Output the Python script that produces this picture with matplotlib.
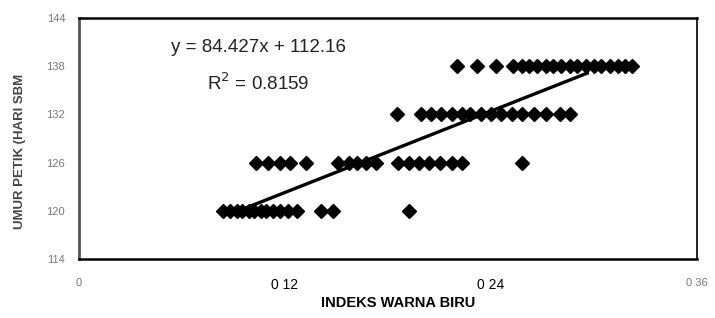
import matplotlib.pyplot as plt
import numpy as np

plt.rcParams['font.family'] = ['Liberation Sans', 'DejaVu Sans']

# indeks warna biru vs umur petik
x120 = [0.084, 0.088, 0.092, 0.095, 0.099, 0.102, 0.106, 0.109, 0.113, 0.117,
        0.122, 0.127, 0.141, 0.148, 0.192]
x126 = [0.103, 0.110, 0.117, 0.123, 0.132, 0.151, 0.157, 0.162, 0.167, 0.173,
        0.186, 0.192, 0.198, 0.204, 0.210, 0.217, 0.223, 0.258]
x132 = [0.185, 0.199, 0.205, 0.211, 0.217, 0.223, 0.228, 0.234, 0.240, 0.246,
        0.252, 0.258, 0.265, 0.272, 0.280, 0.286]
x138 = [0.220, 0.232, 0.243, 0.253, 0.258, 0.262, 0.267, 0.272, 0.276, 0.281,
        0.286, 0.290, 0.295, 0.300, 0.304, 0.309, 0.314, 0.318, 0.322]
days = [120, 126, 132, 138]

slope = 84.427
intercept = 112.16
r2 = 0.8159
fit_range = [0.094, 0.296]

xticks = [0, 0.12, 0.24, 0.36]
xlabels = ['0', '0 12', '0 24', '0 36']
yticks = [114, 120, 126, 132, 138, 144]

fig = plt.figure(figsize=(7.15, 3.18), dpi=100)
ax = fig.add_axes([0.1105, 0.1855, 0.8645, 0.7575])

for d, xs in zip(days, [x120, x126, x132, x138]):
    ax.plot(xs, [d] * len(xs), 'D', color='black', markersize=7.5, zorder=2)

fx = np.array(fit_range)
ax.plot(fx, slope * fx + intercept, color='black', linewidth=2.4, zorder=3)

ax.text(0.1045, 140.3, 'y = %.3fx + %.2f' % (slope, intercept), ha='center', va='center',
        fontsize=13.5, color='#222222')
ax.text(0.1045, 135.9, 'R$^2$ = %.4f' % r2, ha='center', va='center',
        fontsize=13.5, color='#222222')

ax.set_xlim(0, 0.36)
ax.set_ylim(114, 144)
ax.set_xticks(xticks)
ax.set_xticklabels(xlabels)
ax.set_yticks(yticks)
ax.tick_params(axis='y', length=0, labelsize=8, colors='#777777', pad=10)
ax.tick_params(axis='x', length=0, labelsize=8, colors='#777777', pad=14)
for lbl in ax.get_xticklabels()[1:3]:
    lbl.set_color('black')
    lbl.set_fontsize(10)

for side in ['top', 'bottom', 'right']:
    ax.spines[side].set_linewidth(1.8)
    ax.spines[side].set_color('black')
ax.spines['right'].set_linewidth(1.2)
ax.spines['left'].set_linewidth(2)
ax.spines['left'].set_color('#555555')

ax.set_xlabel('INDEKS WARNA BIRU', fontsize=10.5, fontweight='bold')
ax.xaxis.set_label_coords(0.516, -0.155)
ax.set_ylabel('UMUR PETIK (HARI SBM', fontsize=9.5, fontweight='bold', color='#444444')
ax.yaxis.set_label_coords(-0.085, 0.445)

fig.savefig('out.png', dpi=100)
